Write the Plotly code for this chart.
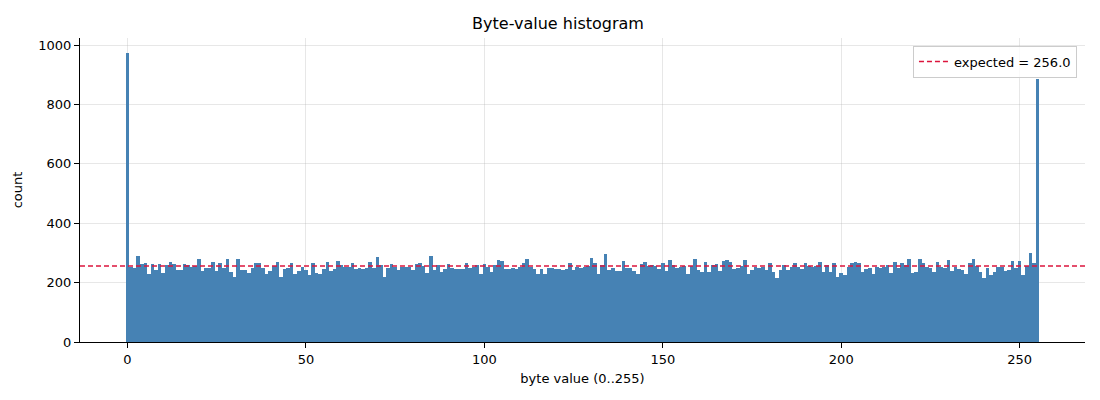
import plotly.graph_objects as go

# counts per byte value
byte_values = list(range(256))
counts = [
    975, 253, 250, 289, 264, 265, 230, 263, 243, 263, 233, 259, 269, 264, 243, 243,
    263, 259, 251, 256, 279, 240, 250, 250, 269, 240, 265, 250, 279, 236, 220, 279,
    241, 241, 232, 249, 265, 265, 250, 230, 240, 256, 269, 220, 245, 249, 265, 228,
    238, 254, 243, 225, 265, 231, 229, 245, 268, 240, 245, 272, 259, 252, 254, 265,
    245, 249, 245, 249, 268, 249, 286, 259, 220, 249, 263, 254, 243, 252, 254, 252,
    243, 263, 265, 256, 232, 289, 243, 261, 236, 245, 263, 249, 245, 245, 245, 265,
    250, 254, 261, 228, 263, 254, 236, 259, 276, 272, 245, 245, 249, 245, 254, 265,
    279, 254, 245, 230, 245, 230, 249, 249, 245, 245, 244, 245, 265, 243, 254, 249,
    254, 256, 282, 265, 230, 259, 296, 243, 249, 240, 240, 272, 249, 249, 240, 230,
    263, 268, 256, 259, 256, 245, 265, 239, 276, 259, 249, 254, 256, 230, 256, 279,
    241, 236, 268, 236, 259, 263, 239, 272, 276, 268, 245, 249, 256, 276, 230, 241,
    252, 250, 252, 243, 265, 236, 216, 243, 259, 243, 254, 265, 252, 245, 265, 256,
    254, 256, 268, 236, 259, 236, 265, 220, 232, 225, 252, 265, 268, 265, 236, 245,
    249, 229, 252, 250, 252, 259, 232, 268, 249, 265, 259, 279, 232, 236, 279, 265,
    252, 249, 236, 268, 254, 249, 276, 239, 252, 245, 241, 228, 265, 279, 256, 236,
    216, 249, 225, 236, 252, 252, 240, 243, 272, 249, 272, 225, 256, 299, 265, 885,
]
expected = 256.0

x_range = [-13.3, 268.3]
y_range = [0, 1024]

fig = go.Figure()

fig.add_trace(go.Bar(x=byte_values, y=counts, width=1.0,
                     marker=dict(color='#4682b4', line=dict(width=0)),
                     showlegend=False, hoverinfo='x+y'))

# horizontal reference line across the whole axis
fig.add_trace(go.Scatter(x=x_range, y=[expected, expected], mode='lines',
                         name=f'expected = {expected:.1f}',
                         line=dict(color='#dc143c', width=1.5, dash='5px,3px')))

axis_common = dict(showline=True, linecolor='black', linewidth=1,
                   ticks='outside', ticklen=5, tickcolor='black',
                   showgrid=True, gridcolor='rgba(176,176,176,0.3)', gridwidth=1,
                   zeroline=False, layer='above traces', automargin=False,
                   tickfont=dict(size=13, color='black'),
                   title_font=dict(size=13, color='black'))

# the page body adds an 8px offset, margins are set to compensate
fig.update_layout(
    width=1100, height=400,
    margin=dict(l=72, r=23, t=30, b=66),
    paper_bgcolor='white', plot_bgcolor='white',
    font=dict(family='DejaVu Sans', color='black'),
    title=dict(text='Byte-value histogram', x=0.5, xanchor='center',
               y=0.9625, yanchor='middle', font=dict(size=16)),
    bargap=0,
    xaxis=dict(range=x_range, tickvals=[0, 50, 100, 150, 200, 250],
               title=dict(text='byte value (0..255)', standoff=8), **axis_common),
    yaxis=dict(range=y_range, tickvals=[0, 200, 400, 600, 800, 1000],
               title=dict(text='count', standoff=12), **axis_common),
    legend=dict(x=0.992, y=0.975, xanchor='right', yanchor='top',
                bgcolor='rgba(255,255,255,0.8)', bordercolor='#cccccc',
                borderwidth=1, font=dict(size=13), tracegroupgap=0),
)

fig.write_html("out.html")
